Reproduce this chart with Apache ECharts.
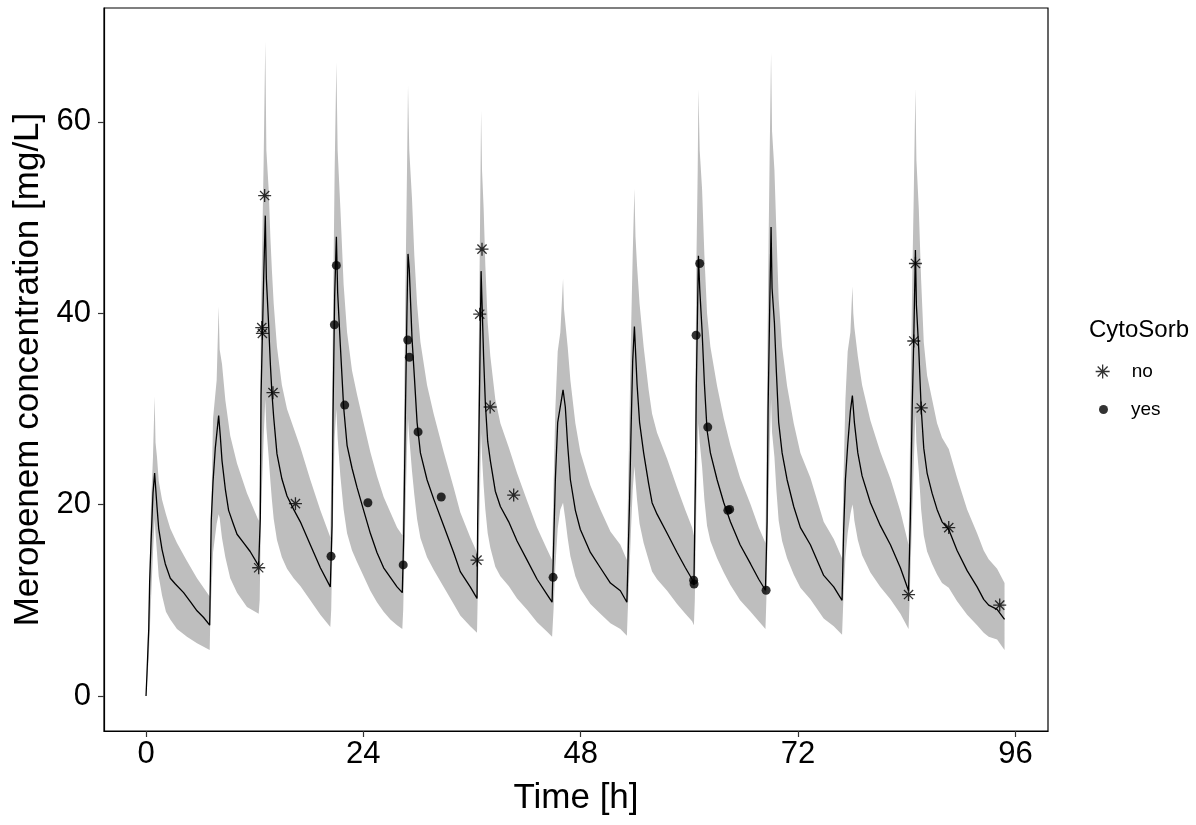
<!DOCTYPE html>
<html><head><meta charset="utf-8">
<script src="https://cdn.jsdelivr.net/npm/echarts@6/dist/echarts.min.js"></script>
<style>html,body{margin:0;padding:0;background:#fff}#c{width:1196px;height:825px}</style>
</head><body><div id="c"></div>
<script>
const xTicks = [0, 24, 48, 72, 96];
const yTicks = [0, 20, 40, 60];

// median prediction [time h, conc mg/L]
const medianLine = [
 [0,0],[0.1,2.2],[0.3,7.0],[0.4,11.9],[0.55,16.0],[0.77,21.2],[0.95,23.3],[1.21,19.8],[1.4,17.5],[1.77,15.3],[2.13,13.8],[2.68,12.3],[3.24,11.7],[4.15,10.8],[4.89,9.85],[5.63,8.9],[6.36,8.2],[7.03,7.4],
 [7.2,18.3],[7.4,22.4],[7.65,25.9],[8.02,29.3],[8.2,27.2],[8.39,24.6],[8.76,21.6],[9.12,19.4],[9.67,17.9],[10.05,16.9],[10.78,16.0],[11.5,15.1],[12.44,13.6],
 [12.62,18.6],[12.7,31.4],[12.99,43.6],[13.17,50.2],[13.29,43.6],[13.54,38.8],[13.73,34.7],[13.9,31.7],[14.1,29.1],[14.46,25.3],[15.0,22.7],[15.57,20.9],[16.3,19.5],[17.04,18.2],[18.14,15.8],[19.25,13.4],[20.35,11.4],
 [20.54,17.8],[20.65,29.4],[20.83,41.8],[21.02,48.0],[21.16,42.2],[21.46,36.6],[21.64,33.4],[21.82,30.2],[22.2,26.2],[22.75,23.8],[23.3,21.8],[24.03,19.4],[24.77,17.0],[25.5,15.0],[26.24,13.4],[26.98,12.4],[27.72,11.4],[28.3,10.8],
 [28.45,16.6],[28.64,29.4],[28.82,40.6],[28.93,46.2],[29.07,44.6],[29.37,37.4],[29.63,33.4],[29.93,28.6],[30.3,25.4],[31.03,22.6],[31.76,20.6],[32.87,17.8],[33.97,15.0],[34.7,13.0],[35.8,11.4],[36.55,10.2],
 [36.62,17.8],[36.85,33.4],[37.0,44.4],[37.28,35.4],[37.47,30.6],[37.73,26.6],[38.02,24.6],[38.57,21.4],[39.13,19.8],[40.05,18.2],[40.97,16.2],[42.08,14.2],[43.18,12.2],[44.29,10.6],[44.84,9.8],
 [45.0,15.4],[45.2,22.6],[45.46,28.6],[46.05,32.0],[46.3,30.2],[46.56,26.2],[46.86,22.6],[47.41,19.4],[47.96,17.4],[49.07,15.0],[50.17,13.4],[51.28,11.8],[52.38,11.0],[53.1,9.8],
 [53.4,20.6],[53.56,27.8],[53.74,35.0],[53.93,38.6],[54.22,32.6],[54.5,28.6],[54.95,25.4],[55.5,22.2],[55.88,20.2],[56.43,19.0],[57.54,17.0],[58.64,15.0],[59.56,13.4],[60.3,12.2],[60.5,11.6],
 [60.66,22.2],[60.77,32.6],[60.92,41.4],[61.0,46.0],[61.14,42.6],[61.4,38.2],[61.66,32.6],[61.95,27.8],[62.32,25.4],[63.06,22.6],[63.8,20.2],[64.53,18.2],[65.6,15.8],[66.76,13.8],[67.66,12.2],[68.4,11.05],
 [68.58,18.2],[68.69,29.8],[68.87,40.6],[69.02,49.0],[69.13,42.6],[69.39,39.0],[69.61,33.8],[69.86,28.6],[70.24,25.4],[70.79,22.6],[71.52,19.8],[72.26,17.6],[73.36,15.8],[74.83,12.6],[75.94,11.4],[76.86,10.0],
 [77.04,17.4],[77.23,22.6],[77.48,26.2],[77.78,29.8],[78.0,31.4],[78.22,28.6],[78.6,25.4],[79.07,23.0],[79.99,20.2],[81.09,17.8],[82.2,15.8],[83.3,13.4],[84.2,11.0],
 [84.4,18.6],[84.6,30.0],[84.77,37.0],[84.96,46.6],[85.07,40.8],[85.33,36.2],[85.59,30.2],[85.88,25.9],[86.25,23.3],[86.8,21.2],[87.35,19.5],[87.9,18.2],[88.64,17.4],[89.56,15.2],[90.67,13.1],[91.77,11.4],[92.5,10.1],[93.05,9.5],[93.98,9.05],[94.8,8.0]
];

// prediction interval [time h, lower, upper]
const ribbon = [
 [0,0,0],[0.3,4,9],[0.55,10,20],[0.77,15,25],[0.95,18.5,31.3],[1.05,17,26.5],[1.21,15,25],[1.4,12.5,22.5],[1.77,10.5,20.5],[2.2,8.8,19],[2.68,8,17.5],[3.42,7,16],[4.52,6.2,14.1],[5.63,5.5,12.3],[7.03,4.8,10.4],
 [7.1,8,14],[7.4,15,29],[7.8,18,33],[8.02,19,40.7],[8.13,18.6,36.2],[8.39,16.5,34.7],[8.76,14.5,30.9],[9.3,12.3,27.2],[10.05,10.8,24.3],[11.15,9.3,21.2],[12.44,8.6,18.3],
 [12.55,10,22],[12.7,19,40],[12.99,27,56],[13.17,31,68.4],[13.29,28,57],[13.54,25,53],[13.73,22.5,48],[13.9,20.5,44.5],[14.1,18.5,41],[14.46,16.3,36.5],[15.0,14.5,32.5],[15.57,13.3,30],[16.3,12.3,28],[17.04,11.5,26],[18.14,10,22.6],[19.25,8.5,19.4],[20.35,7.2,16.6],
 [20.45,9,22],[20.65,19,40],[20.83,27,55],[21.02,30,66.2],[21.16,27,57],[21.46,23,51],[21.82,19.5,43],[22.2,17,38],[22.75,15.2,34],[23.3,14,31.5],[24.03,12.5,28.5],[24.77,11,25.5],[25.5,9.8,23],[26.24,8.8,20.8],[26.98,8,19.2],[27.72,7.4,17.6],[28.3,7,16.8],
 [28.4,9,21],[28.64,19,42],[28.82,26,55],[28.93,29,63.8],[29.07,27,57],[29.37,23.5,52],[29.63,21,46],[29.93,18.5,41],[30.3,16.5,37],[31.03,14.5,32.5],[31.76,13.2,29.5],[32.87,11.4,25.5],[33.97,9.6,21.8],[34.7,8.4,19.2],[35.8,7.3,16.6],[36.55,6.6,15],
 [36.62,10,25],[36.85,20,46],[37.0,27.5,61.2],[37.1,25,55],[37.28,22,51],[37.47,19.5,45],[37.73,17,39],[38.02,15.5,35.5],[38.57,13.5,31],[39.13,12.5,28.5],[40.05,11.5,26],[40.97,10.2,23.3],[42.08,9,20.4],[43.18,7.7,17.6],[44.29,6.7,15.3],[44.84,6.2,14.2],
 [45.0,9,22],[45.2,13.5,30],[45.46,17.5,36],[45.75,19.5,38],[46.05,20.2,43.6],[46.15,19.5,40.5],[46.3,18.5,39],[46.56,16.5,36.5],[46.86,14.6,33],[47.41,12.5,28.5],[47.96,11.2,25.5],[49.07,9.6,22],[50.17,8.6,19.5],[51.28,7.6,17.2],[52.38,7,15.8],[53.1,6.3,14.2],
 [53.2,9,20],[53.4,13.5,30],[53.56,17.5,38],[53.74,21.5,46],[53.93,24,53],[54.05,22.5,48],[54.22,20.5,45],[54.5,18,41],[54.95,16,36.5],[55.5,14.2,32],[55.88,13,29.5],[56.43,12.2,27.5],[57.54,11,24.8],[58.64,9.6,21.8],[59.56,8.6,19.4],[60.3,7.8,17.6],[60.5,7.4,16.8],
 [60.6,10,24],[60.77,20,45],[60.92,25.5,55],[61.0,28.5,63.4],[61.14,26.5,57],[61.4,24,53],[61.66,20.5,46],[61.95,17.8,40],[62.32,16.2,36.5],[63.06,14.4,32.4],[63.8,12.9,29],[64.53,11.6,26.2],[65.6,10,22.8],[66.76,8.8,20],[67.66,7.8,17.6],[68.4,7,16],
 [68.5,10,24],[68.69,19,43],[68.87,26,57],[69.02,31,67.2],[69.13,27.5,59],[69.39,25,55],[69.61,21.5,48.5],[69.86,18.3,41.5],[70.24,16.2,36.5],[70.79,14.4,32.4],[71.52,12.7,28.5],[72.26,11.3,25.4],[73.36,10.1,22.8],[74.83,8.1,18.2],[75.94,7.3,16.4],[76.86,6.4,14.4],
 [77.0,10,22],[77.23,14.5,31],[77.48,17,36],[77.78,19,38],[78.0,20,42.8],[78.1,19.5,40],[78.22,18.3,38.5],[78.6,16.3,35.5],[79.07,14.7,32.5],[79.99,12.9,28.8],[81.09,11.4,25.5],[82.2,10.1,22.7],[83.3,8.6,19.3],[84.2,7,15.8],
 [84.3,9.5,22],[84.6,19,43],[84.77,24,52],[84.96,29.5,63.5],[85.07,26.5,56],[85.33,23.5,51],[85.59,19.5,43.5],[85.88,16.8,37],[86.25,15.1,33.5],[86.8,13.8,31],[87.35,12.7,28.5],[87.9,11.8,27],[88.64,11.3,25.8],[89.56,9.9,22.8],[90.67,8.5,19.5],[91.77,7.4,17],[92.5,6.6,15.2],[93.05,6.2,14.3],[93.98,5.9,13.3],[94.8,4.8,11.8]
];

// observations, CytoSorb = no
const obsNo = [
 [12.44,13.4],[12.78,38.5],[12.85,37.9],[13.1,52.3],[14.02,31.7],[16.5,20.1],
 [36.55,14.2],[36.85,39.9],[37.1,46.7],[38.0,30.2],[40.6,21.0],
 [84.2,10.6],[84.78,37.1],[84.96,45.2],[85.6,30.1],[88.64,17.6],[94.27,9.5]
];
// observations, CytoSorb = yes
const obsYes = [
 [20.43,14.6],[20.8,38.8],[21.02,45.0],[21.94,30.4],[24.5,20.2],
 [28.4,13.7],[28.9,37.2],[29.08,35.4],[30.04,27.6],[32.6,20.8],
 [44.95,12.4],[60.47,12.1],[60.52,11.7],[60.74,37.7],[61.14,45.2],[62.03,28.1],[64.25,19.4],[64.45,19.5],[68.47,11.05]
];

const FONT = "'Liberation Sans', Arial, sans-serif";
const ASTER = 'path://M5,0L5,10M0,5L10,5M1.46,1.46L8.54,8.54M1.46,8.54L8.54,1.46';

const chart = echarts.init(document.getElementById('c'), null, {renderer: 'canvas'});
chart.setOption({
  animation: false,
  backgroundColor: '#fff',
  textStyle: {fontFamily: FONT},
  grid: {left: 104, right: 148, top: 8, bottom: 94, show: true, borderColor: '#000', borderWidth: 1.2, backgroundColor: '#fff', outerBoundsMode: 'none', containLabel: false},
  title: {text: 'CytoSorb', left: 1084, top: 313, textStyle: {fontFamily: FONT, fontSize: 24, fontWeight: 'normal', color: '#000'}},
  legend: [
    {data: ['no'], orient: 'vertical', left: 1090, top: 357, itemWidth: 14, itemHeight: 14, itemGap: 10,
     textStyle: {fontFamily: FONT, fontSize: 19, color: '#000', padding: [0, 0, 0, 17]},
     itemStyle: {color: 'rgba(0,0,0,0)', borderColor: '#000', borderWidth: 1.3}},
    {data: ['yes'], orient: 'vertical', left: 1094, top: 395, itemWidth: 9, itemHeight: 9,
     textStyle: {fontFamily: FONT, fontSize: 19, color: '#000', padding: [0, 0, 0, 18]},
     itemStyle: {color: '#000', borderWidth: 0}}
  ],
  xAxis: {
    type: 'value', min: -4.64, max: 99.6,
    name: 'Time [h]', nameLocation: 'middle', nameGap: 50,
    nameTextStyle: {fontFamily: FONT, fontSize: 35, color: '#000'},
    splitLine: {show: false},
    axisLine: {show: true, onZero: false, lineStyle: {color: '#000', width: 1.2}},
    axisTick: {show: true, length: 6, lineStyle: {color: '#333', width: 1.2}, customValues: xTicks},
    axisLabel: {fontFamily: FONT, fontSize: 31, color: '#000', margin: 8, customValues: xTicks}
  },
  yAxis: {
    type: 'value', min: -3.66, max: 71.9,
    name: 'Meropenem concentration [mg/L]', nameLocation: 'middle', nameGap: 55,
    nameTextStyle: {fontFamily: FONT, fontSize: 35, color: '#000'},
    splitLine: {show: false},
    axisLine: {show: true, onZero: false, lineStyle: {color: '#000', width: 1.2}},
    axisTick: {show: true, length: 6, lineStyle: {color: '#333', width: 1.2}, customValues: yTicks},
    axisLabel: {fontFamily: FONT, fontSize: 31, color: '#000', margin: 13, customValues: yTicks}
  },
  series: [
    {
      type: 'custom', name: 'interval', silent: true, z: 1,
      data: ribbon,
      encode: {x: 0, y: [1, 2]},
      renderItem: function (params, api) {
        if (params.dataIndex !== 0) return null;
        const pts = [];
        for (let i = 0; i < ribbon.length; i++) pts.push(api.coord([ribbon[i][0], ribbon[i][2]]));
        for (let i = ribbon.length - 1; i >= 0; i--) pts.push(api.coord([ribbon[i][0], ribbon[i][1]]));
        return {type: 'polygon', shape: {points: pts}, style: {fill: '#bebebe', stroke: null}};
      }
    },
    {
      type: 'line', name: 'median', data: medianLine, showSymbol: false, z: 3,
      lineStyle: {color: '#000', width: 1.3}, silent: true
    },
    {
      type: 'scatter', name: 'no', data: obsNo, symbol: ASTER, symbolSize: 13, z: 5,
      itemStyle: {color: 'rgba(0,0,0,0)', borderColor: '#000', borderWidth: 1.3}
    },
    {
      type: 'scatter', name: 'yes', data: obsYes, symbol: 'circle', symbolSize: 9, z: 5,
      itemStyle: {color: '#000'}
    }
  ]
});
</script>
</body></html>
